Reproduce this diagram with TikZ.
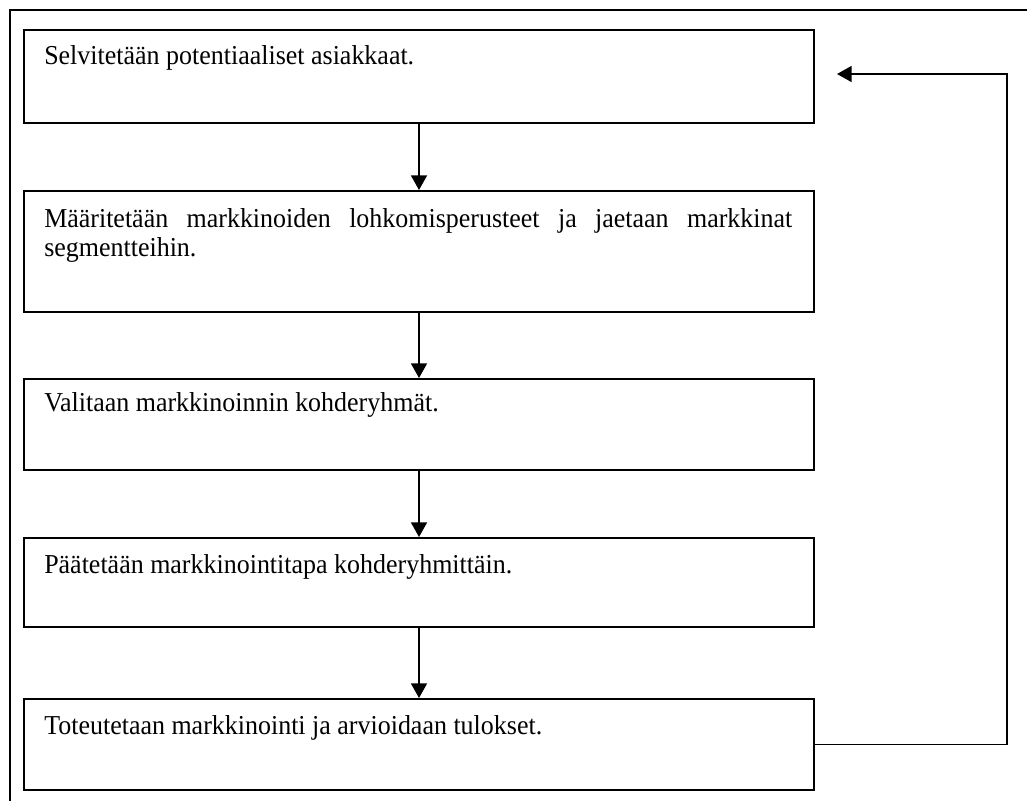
\documentclass[tikz,border=0pt]{standalone}
\usepackage{fontspec}
\setmainfont[FakeStretch=0.95]{Liberation Serif}
\usetikzlibrary{arrows.meta,calc}
\begin{document}
\begin{tikzpicture}[x=0.75pt,y=-0.75pt,
  stepbox/.style={draw,line width=1.3pt,rectangle,anchor=north west,
    minimum width=790*0.75pt,inner sep=0pt},
  steptext/.style={anchor=base west,inner sep=0pt,
    font=\fontsize{20.5pt}{21.75pt}\selectfont},
  flow/.style={line width=1.3pt,-{Triangle[length=11pt,width=12pt]}},
  frameline/.style={line width=1.1pt}]
\useasboundingbox (0,0) rectangle (1027,800);
% outer frame (only its top and left edges fall inside the page)
\draw[frameline] (10,805) -- (10,10) -- (1035,10);
% process steps
\node[stepbox,minimum height=93*0.75pt]  (s1) at (23,29)  {};
\node[stepbox,minimum height=121*0.75pt] (s2) at (23,190) {};
\node[stepbox,minimum height=91*0.75pt]  (s3) at (23,378) {};
\node[stepbox,minimum height=89*0.75pt]  (s4) at (23,537) {};
\node[stepbox,minimum height=91*0.75pt]  (s5) at (23,698) {};
\node[steptext] (t1) at ($(s1.north west)+(21,35)$) {Selvitetään potentiaaliset asiakkaat.};
\node[steptext,anchor=north west,text width=748*0.75pt,align=justify]
  (t2) at ($(s2.north west)+(21,18)$)
  {Määritetään markkinoiden lohkomisperusteet ja jaetaan markkinat \mbox{segmentteihin.}};
\node[steptext] (t3) at ($(s3.north west)+(21,33)$) {Valitaan markkinoinnin kohderyhmät.};
\node[steptext] (t4) at ($(s4.north west)+(21,36)$) {Päätetään markkinointitapa kohderyhmittäin.};
\node[steptext] (t5) at ($(s5.north west)+(21,36)$) {Toteutetaan markkinointi ja arvioidaan tulokset.};
% downward arrows between steps
\draw[flow] (s1.south -| 419,0) -- (s2.north -| 419,0);
\draw[flow] (s2.south -| 419,0) -- (s3.north -| 419,0);
\draw[flow] (s3.south -| 419,0) -- (s4.north -| 419,0);
\draw[flow] (s4.south -| 419,0) -- (s5.north -| 419,0);
% feedback loop back to the first step
\coordinate (back) at (837,74);
\draw[flow] (s5.east) -| (1007,74) -- (back);
\end{tikzpicture}
\end{document}
